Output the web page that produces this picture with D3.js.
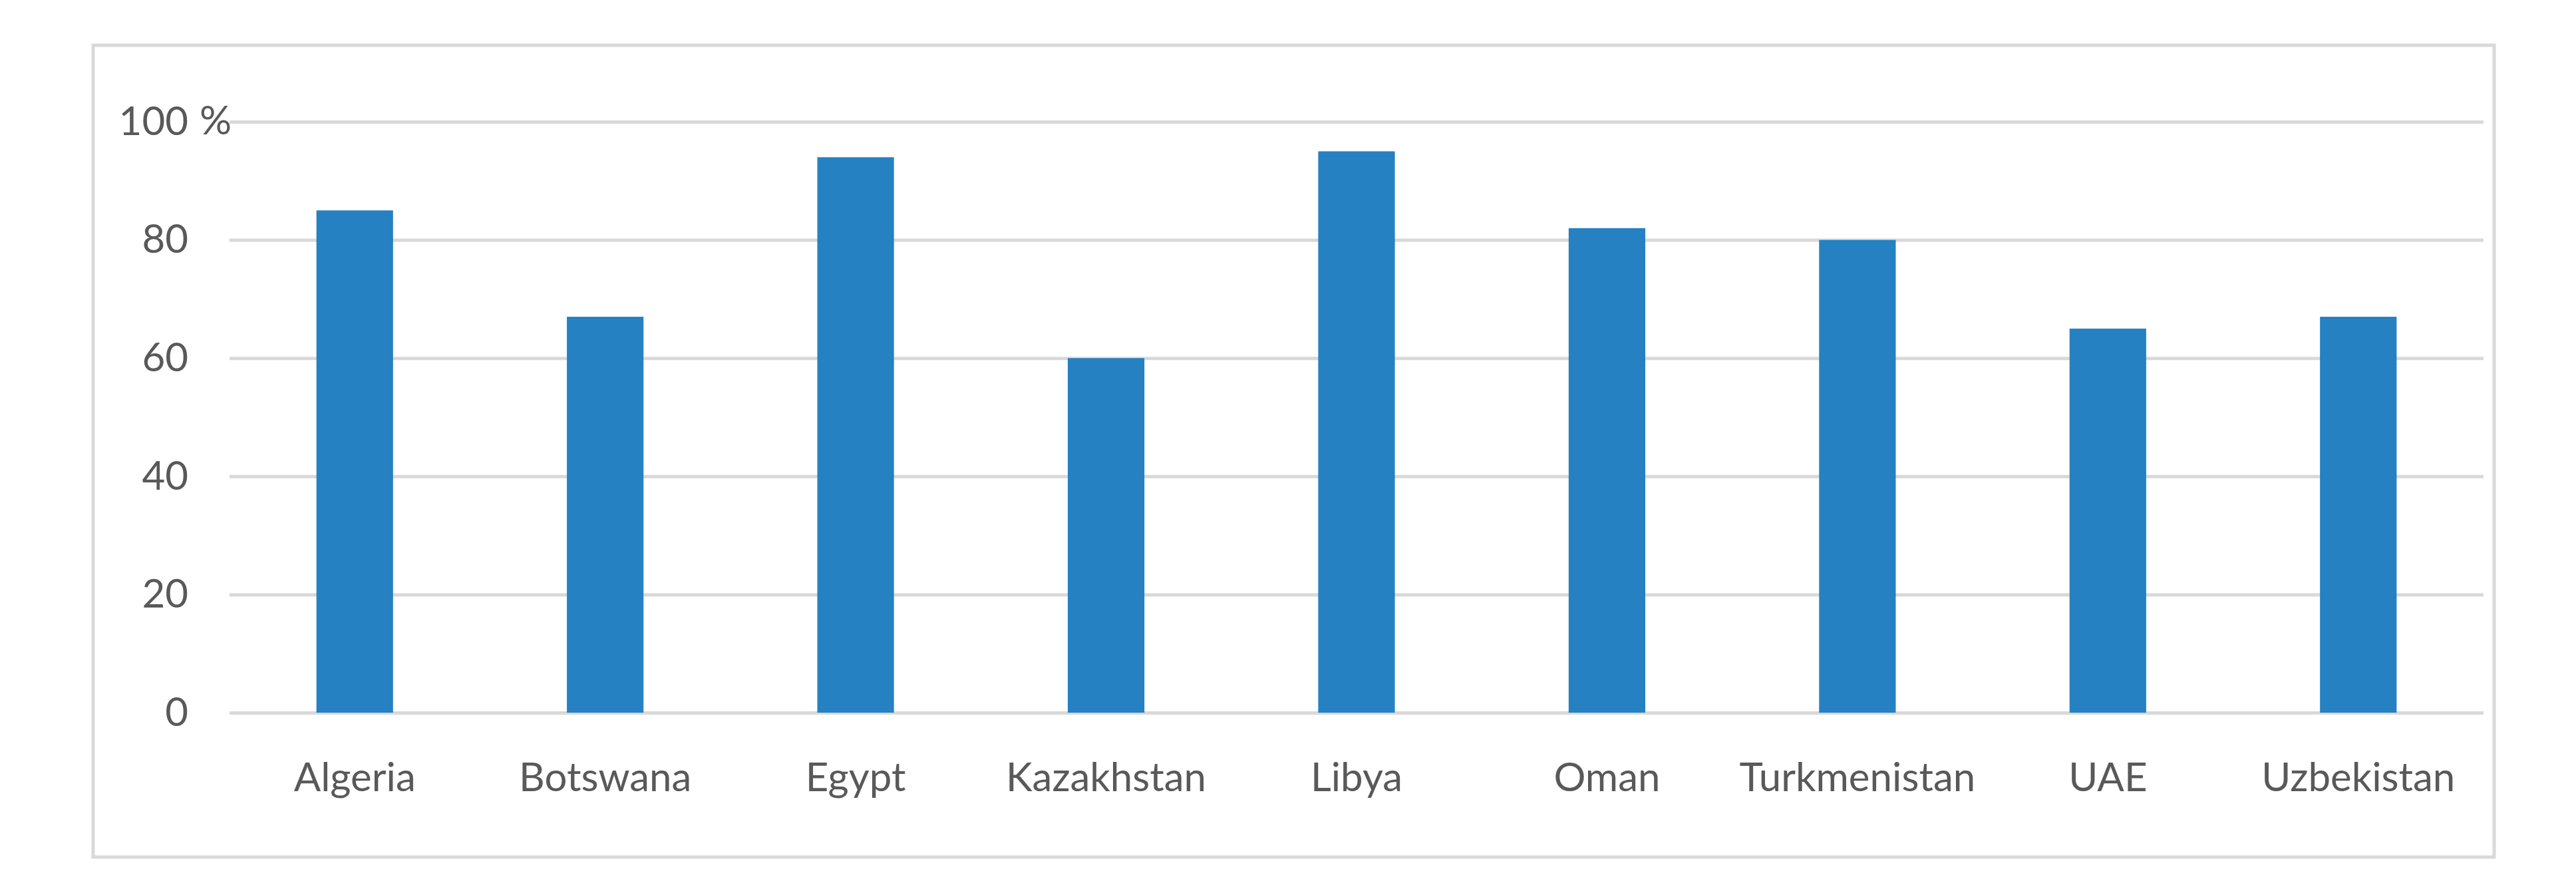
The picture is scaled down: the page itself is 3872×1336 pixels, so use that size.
<!DOCTYPE html>
<html>
<head>
<meta charset="utf-8">
<script src="https://cdn.jsdelivr.net/npm/d3@7"></script>
<style>
  body { margin: 0; background: #fff; }
  svg { display: block; }
</style>
</head>
<body>
<svg id="chart"></svg>
<script>
// chart data
var countries = ['Algeria', 'Botswana', 'Egypt', 'Kazakhstan', 'Libya',
                 'Oman', 'Turkmenistan', 'UAE', 'Uzbekistan'];
var shares = [85, 67, 94, 60, 95, 82, 80, 65, 67];
var yTicks = [0, 20, 40, 60, 80, 100];

var svgWidth = 3872, svgHeight = 1336;
var fontFamily = 'Lato, "Open Sans", sans-serif';
var textColor = '#595959';
var lineColor = '#d9d9d9';

var svg = d3.select('#chart')
            .attr('width', svgWidth)
            .attr('height', svgHeight);

// outer chart frame
svg.append('rect')
   .attr('x', 140).attr('y', 68)
   .attr('width', 3609).attr('height', 1220)
   .attr('fill', '#fff')
   .attr('stroke', lineColor)
   .attr('stroke-width', 5);

//scaling x and y
var xScale = d3.scaleBand().domain(countries).range([345, 3733]).paddingInner(0.694).paddingOuter(0.347),
    yScale = d3.scaleLinear().domain([0, 100]).range([1071, 183]);

// gridlines + y labels through a left axis
var yAxis = d3.axisLeft(yScale)
              .tickValues(yTicks)
              .tickSize(-(3733 - 345))
              .tickPadding(62)
              .tickFormat(d3.format('d'));

var gy = svg.append('g')
            .attr('transform', 'translate(345, 0)')
            .call(yAxis);
gy.select('.domain').remove();
gy.selectAll('.tick line')
  .attr('stroke', lineColor)
  .attr('stroke-width', 5);
gy.selectAll('.tick text')
  .attr('fill', textColor)
  .style('font-family', fontFamily)
  .style('font-size', '60px');

// the percent sign next to the top label
svg.append('text')
   .attr('x', 300)
   .attr('y', yScale(100))
   .attr('dy', '0.32em')
   .attr('fill', textColor)
   .style('font-family', fontFamily)
   .style('font-size', '60px')
   .text('%');

// bars
svg.append('g')
   .selectAll('rect')
   .data(countries)
   .enter()
   .append('rect')
   .attr('x', function(d) { return xScale(d); })
   .attr('y', function(d, i) { return yScale(shares[i]); })
   .attr('width', xScale.bandwidth())
   .attr('height', function(d, i) { return yScale(0) - yScale(shares[i]); })
   .attr('fill', '#2581c2');

// category labels through a bottom axis
var xAxis = d3.axisBottom(xScale).tickSize(0).tickPadding(75);
var gx = svg.append('g')
            .attr('transform', 'translate(0, ' + yScale(0) + ')')
            .call(xAxis);
gx.select('.domain').remove();
gx.selectAll('.tick text')
  .attr('fill', textColor)
  .style('font-family', fontFamily)
  .style('font-size', '60px');
</script>
</body>
</html>
